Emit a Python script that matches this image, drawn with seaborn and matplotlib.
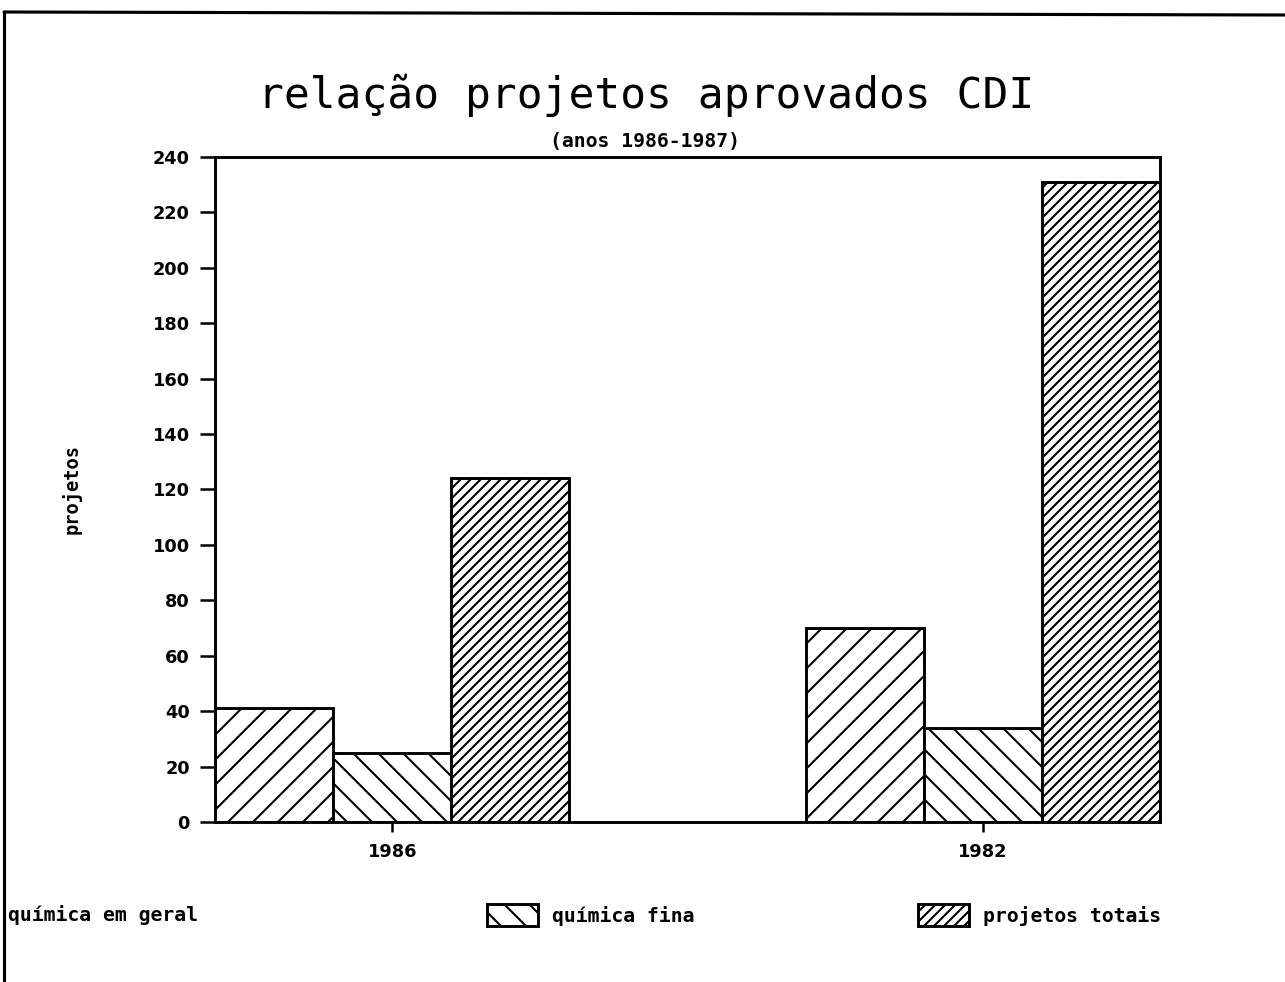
import pandas as pd
import seaborn as sns
from matplotlib import pyplot as plt
from matplotlib.lines import Line2D

anos = ['1986', '1982']
series = ['química em geral', 'química fina', 'projetos totais']
valores_1986 = [41, 25, 124]
valores_1982 = [70, 34, 231]
hachuras = ['//', '\\\\', '/////']

df = pd.DataFrame({
    'ano': [a for a in anos for _ in series],
    'serie': series * len(anos),
    'projetos': valores_1986 + valores_1982,
})

sns.set_style('white')
plt.rcParams['hatch.linewidth'] = 1.0
plt.rcParams['font.family'] = ['DejaVu Sans']
for k in ['text.color', 'axes.labelcolor', 'xtick.color', 'ytick.color']:
    plt.rcParams[k] = 'black'

fig = plt.figure(figsize=(1285 / 150, 982 / 150), dpi=150)
ax = fig.add_axes([215 / 1285, 1 - 822 / 982, 945 / 1285, 665 / 982])

sns.barplot(data=df, x='ano', y='projetos', hue='serie', order=anos, hue_order=series,
            palette=['white'] * 3, edgecolor='black', linewidth=1.4, width=0.6,
            legend=False, ax=ax)
for cont, h in zip(ax.containers, hachuras):
    for bar in cont:
        bar.set_hatch(h)

ax.set_xlim(-0.3, 1.3)
ax.set_ylim(0, 240)
ax.set_yticks(range(0, 241, 20))
ax.set_xlabel('')
ax.set_ylabel('projetos', family='DejaVu Sans Mono', fontweight='bold', fontsize=9, labelpad=34)
for s in ax.spines.values():
    s.set_visible(True)
    s.set_color('black')
    s.set_linewidth(1.4)
ax.tick_params(axis='y', direction='out', length=7, width=1.2, pad=5, labelsize=8.5, left=True)
ax.tick_params(axis='x', direction='out', length=5, width=1.2, pad=5, labelsize=8.5, bottom=True)
for lab in ax.get_xticklabels() + ax.get_yticklabels():
    lab.set_fontweight('bold')

fig.text(0.503, 1 - 95 / 982, 'relação projetos aprovados CDI', ha='center', va='center',
         family='DejaVu Sans Mono', fontsize=20.6)
fig.text(0.502, 1 - 141 / 982, '(anos 1986-1987)', ha='center', va='center',
         family='DejaVu Sans Mono', fontweight='bold', fontsize=9.5)

# legenda na base da figura
ly = 1 - 915 / 982
fonte_leg = {'family': 'DejaVu Sans Mono', 'weight': 'bold', 'size': 9.5}
fig.text(8 / 1285, ly, series[0], ha='left', va='center', fontdict=fonte_leg)
for i, x0 in [(1, 487), (2, 918)]:
    fig.legend([ax.containers[i][0]], [series[i]], loc='center left',
               bbox_to_anchor=(x0 / 1285, ly), frameon=False, borderpad=0,
               borderaxespad=0, handlelength=2.6, handleheight=1.35, handletextpad=0.7,
               prop=fonte_leg)

# moldura da folha digitalizada
fig.add_artist(Line2D([4 / 1285, 1], [1 - 12 / 982, 1 - 15 / 982], color='black', lw=1.5))
fig.add_artist(Line2D([4 / 1285, 4 / 1285], [1 - 12 / 982, 0], color='black', lw=1.5))

plt.savefig('out.png', dpi=150)
